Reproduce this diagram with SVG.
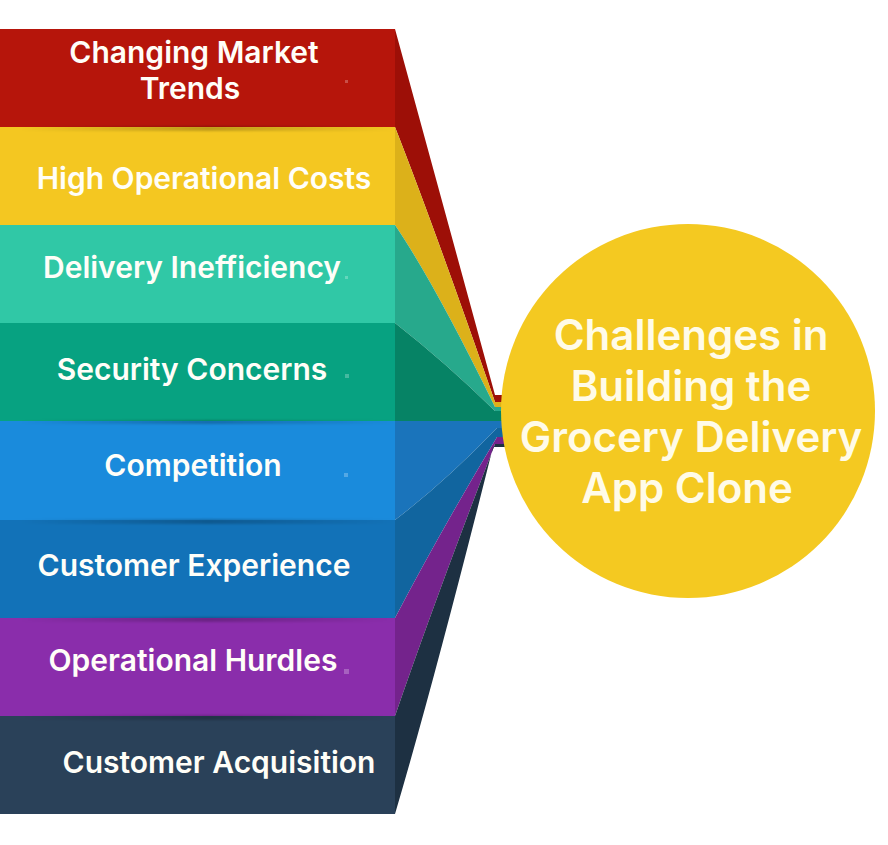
<svg xmlns="http://www.w3.org/2000/svg" width="888" height="845" viewBox="0 0 888 845">
<style>
.l{font-family:Inter,"Noto Sans","Liberation Sans",sans-serif;font-weight:600;font-size:30px;fill:#fffef8;text-anchor:middle}
.t{font-family:Inter,"Noto Sans","Liberation Sans",sans-serif;font-weight:600;font-size:42px;fill:#fffbe8;text-anchor:middle}
.d{fill:#fff;opacity:.25}
.s{fill:url(#sh);filter:url(#bl)}
</style>
<defs>
<linearGradient id="sh" x1="0" x2="1" y1="0" y2="0"><stop offset="0" stop-color="#000" stop-opacity="0"/><stop offset=".5" stop-color="#000" stop-opacity=".22"/><stop offset="1" stop-color="#000" stop-opacity="0"/></linearGradient>
<filter id="bl" x="-5%" y="-100%" width="110%" height="300%"><feGaussianBlur stdDeviation="1.2"/></filter>
</defs>
<rect width="888" height="845" fill="#fff"/>
<g id="connectors">
<path fill="#9d0f07" d="M395 29L495 395L506 395L506 402L495 402Q435 229 395 127Z"/>
<path fill="#dcb11a" d="M395 127Q435 229 495 402L506 402L506 407L495 407Q435 284 395 225Z"/>
<path fill="#27a98c" d="M395 225Q435 284 495 407L506 407L506 411L495 411Q445 362 395 323Z"/>
<path fill="#068365" d="M395 323Q445 362 495 411L506 411L506 421L395 421Z"/>
<path fill="#1a74bb" d="M395 421L506 421L506 428L497 428Q445 482 395 520Z"/>
<path fill="#11659f" d="M395 520Q445 482 497 428L506 428L506 437L497 437Q440 532 395 618Z"/>
<path fill="#74238c" d="M395 618Q440 532 497 437L506 437L506 444L495 444Q435 600 395 716Z"/>
<path fill="#1d3042" d="M395 716Q435 600 495 444L506 444L506 447L493 447Q436 675 395 814Z"/>
</g>
<g id="band-1"><rect y="29" width="395" height="98" fill="#b6150b"/><text class="l" x="194" y="63">Changing Market</text><text class="l" x="190" y="99">Trends</text><rect class="d" x="345" y="80" width="3" height="3"/></g>
<g id="band-2"><rect y="127" width="395" height="98" fill="#f4c721"/><rect class="s" x="20" y="126" width="375" height="5"/><text class="l" x="204" y="189">High Operational Costs</text></g>
<g id="band-3"><rect y="225" width="395" height="98" fill="#30c8a6"/><text class="l" x="192" y="278">Delivery Inefficiency</text><rect class="d" x="345" y="276" width="3" height="3"/></g>
<g id="band-4"><rect y="323" width="395" height="98" fill="#07a281"/><text class="l" x="192" y="380">Security Concerns</text><rect class="d" x="345" y="374" width="4" height="4"/></g>
<g id="band-5"><rect y="421" width="395" height="99" fill="#1a8bdc"/><rect class="s" x="20" y="420" width="375" height="4"/><text class="l" x="193" y="476">Competition</text><rect class="d" x="344" y="473" width="4" height="4"/></g>
<g id="band-6"><rect y="520" width="395" height="98" fill="#1272b8"/><rect class="s" x="20" y="519" width="375" height="5"/><text class="l" x="194" y="576">Customer Experience</text></g>
<g id="band-7"><rect y="618" width="395" height="98" fill="#8a2dab"/><rect class="s" x="20" y="617" width="375" height="5"/><text class="l" x="193" y="671">Operational Hurdles</text><rect class="d" x="344" y="669" width="5" height="5"/></g>
<g id="band-8"><rect y="716" width="395" height="98" fill="#2a4159"/><rect class="s" x="20" y="715" width="375" height="5"/><text class="l" x="219" y="773">Customer Acquisition</text></g>
<g id="hub"><circle cx="688" cy="411" r="187" fill="#f4c921"/>
<text class="t" x="691" y="350">Challenges in</text><text class="t" x="691" y="401">Building the</text><text class="t" x="691" y="452">Grocery Delivery</text><text class="t" x="687" y="503">App Clone</text></g>
</svg>
